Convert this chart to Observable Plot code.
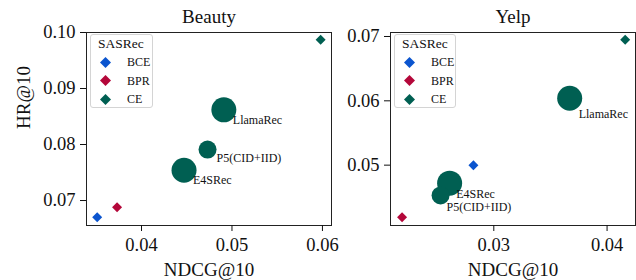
<!DOCTYPE html>
<html><head><meta charset="utf-8">
<script src="https://cdn.jsdelivr.net/npm/d3@7"></script>
<script src="https://cdn.jsdelivr.net/npm/@observablehq/plot@0.6"></script>
<style>
body{margin:0;background:#fff;}
#wrap{position:relative;width:636px;height:280px;font-family:"Liberation Serif",serif;overflow:hidden;}
.panel{position:absolute;top:0;}
.legend{position:absolute;top:34px;height:74px;border:1px solid #d4d4d4;border-radius:3px;background:rgba(255,255,255,0.85);box-sizing:border-box;}
.legend .t{position:absolute;left:7px;top:0px;font-size:13.5px;line-height:18px;color:#111;}
.legend .e{position:absolute;left:36px;font-size:12px;line-height:14px;color:#111;}
.legend svg{position:absolute;left:8px;}
</style></head>
<body><div id="wrap"></div>
<script>
// ---- data ----
const losses = ["BCE", "BPR", "CE"];
const lossColors = ["#0b55cf", "#b4073a", "#005f52"];
const models = ["LlamaRec", "P5(CID+IID)", "E4SRec"];

const beautySasNdcg = [0.0351, 0.0373, 0.0598];
const beautySasHr   = [0.0670, 0.0688, 0.0987];
const beautyLlmNdcg = [0.0491, 0.0473, 0.0447];
const beautyLlmHr   = [0.0862, 0.0791, 0.0754];

const yelpSasNdcg = [0.0282, 0.0219, 0.0416];
const yelpSasHr   = [0.0500, 0.0419, 0.0695];
const yelpLlmNdcg = [0.0367, 0.0253, 0.0261];
const yelpLlmHr   = [0.0604, 0.0453, 0.0472];

const beautyXTicks = [0.04, 0.05, 0.06];
const beautyYTicks = [0.07, 0.08, 0.09, 0.10];
const yelpXTicks = [0.03, 0.04];
const yelpYTicks = [0.05, 0.06, 0.07];

const beautyXDomain = [0.03392, 0.0610];
const beautyYDomain = [0.06554, 0.1000];
const yelpXDomain = [0.02088, 0.04251];
const yelpYDomain = [0.04062, 0.07062];

// ---- styles ----
const teal = "#005f52";
const radius = {"LlamaRec": 12.5, "P5(CID+IID)": 9, "E4SRec": 12.5};
const FONT = "Liberation Serif";
// label offsets (px) relative to each circle
const beautyLabelOffset = {"LlamaRec": [9, 10], "P5(CID+IID)": [9, 9], "E4SRec": [9, 10]};
const yelpLabelOffset = {"LlamaRec": [9, 16], "P5(CID+IID)": [6, 11.5], "E4SRec": [6.5, 11]};

function panel(cfg) {
  const sas = losses.map((l, i) => ({loss: l, x: cfg.sasX[i], y: cfg.sasY[i]}));
  const llm = models.map((m, i) => ({model: m, x: cfg.llmX[i], y: cfg.llmY[i]}));
  const labelMarks = llm.map(d => Plot.text([d], {x: "x", y: "y", text: "model", textAnchor: "start",
      fontSize: 12, dx: cfg.offsets[d.model][0], dy: cfg.offsets[d.model][1], fill: "#111"}));
  const marks = [
    Plot.frame({stroke: "#222", strokeWidth: 1}),
    Plot.axisX({ticks: cfg.xTicks, tickFormat: d3.format(".2f"), tickSize: 6, tickPadding: 6, fontSize: 18.5, label: null}),
    Plot.axisY({ticks: cfg.yTicks, tickFormat: d3.format(".2f"), tickSize: 6, tickPadding: 5, fontSize: 18.5, label: null}),
    Plot.dot(sas, {x: "x", y: "y", fill: "loss", symbol: "diamond2", r: 4.5}),
    Plot.dot(llm, {x: "x", y: "y", r: d => radius[d.model], fill: teal}),
    ...labelMarks,
    Plot.text([cfg.title], {frameAnchor: "top", lineAnchor: "middle", dy: -16, fontSize: 19, fill: "#111"}),
    Plot.text(["NDCG@10"], {frameAnchor: "bottom", lineAnchor: "middle", dy: 44, fontSize: 19, fill: "#111"})
  ];
  if (cfg.yLabel) marks.push(Plot.text([cfg.yLabel], {frameAnchor: "left", lineAnchor: "middle", dx: -63, rotate: -90, fontSize: 19, fill: "#111"}));
  return Plot.plot({
    width: cfg.width, height: 280,
    marginLeft: cfg.ml, marginRight: cfg.mr, marginTop: 32, marginBottom: 55,
    x: {domain: cfg.xDomain},
    y: {domain: cfg.yDomain},
    r: {type: "identity"},
    color: {domain: losses, range: lossColors},
    style: {fontFamily: FONT, fontSize: "18px", background: "transparent", color: "#111", overflow: "visible"},
    marks
  });
}

function legend(left, width) {
  const div = document.createElement("div");
  div.className = "legend";
  div.style.left = left + "px";
  div.style.width = width + "px";
  let html = `<div class="t">SASRec</div>`;
  const ys = [28, 46.7, 65.3];
  losses.forEach((l, i) => {
    html += `<svg width="13" height="13" style="top:${ys[i] - 6.5 - 1}px"><polygon points="6.5,1 12,6.5 6.5,12 1,6.5" fill="${lossColors[i]}"/></svg>`;
    html += `<div class="e" style="top:${ys[i] - 7 - 1}px">${l}</div>`;
  });
  div.innerHTML = html;
  return div;
}

const wrap = document.getElementById("wrap");
const p1 = panel({title: "Beauty", yLabel: "HR@10", width: 336, ml: 86, mr: 5,
  sasX: beautySasNdcg, sasY: beautySasHr, llmX: beautyLlmNdcg, llmY: beautyLlmHr,
  xTicks: beautyXTicks, yTicks: beautyYTicks, xDomain: beautyXDomain, yDomain: beautyYDomain,
  offsets: beautyLabelOffset});
p1.classList.add("panel"); p1.style.left = "0px";
const p2 = panel({title: "Yelp", yLabel: null, width: 300, ml: 54, mr: 1,
  sasX: yelpSasNdcg, sasY: yelpSasHr, llmX: yelpLlmNdcg, llmY: yelpLlmHr,
  xTicks: yelpXTicks, yTicks: yelpYTicks, xDomain: yelpXDomain, yDomain: yelpYDomain,
  offsets: yelpLabelOffset});
p2.classList.add("panel"); p2.style.left = "336px";
wrap.appendChild(p1);
wrap.appendChild(p2);
wrap.appendChild(legend(90, 63));
wrap.appendChild(legend(394, 62));
</script>
</body></html>
